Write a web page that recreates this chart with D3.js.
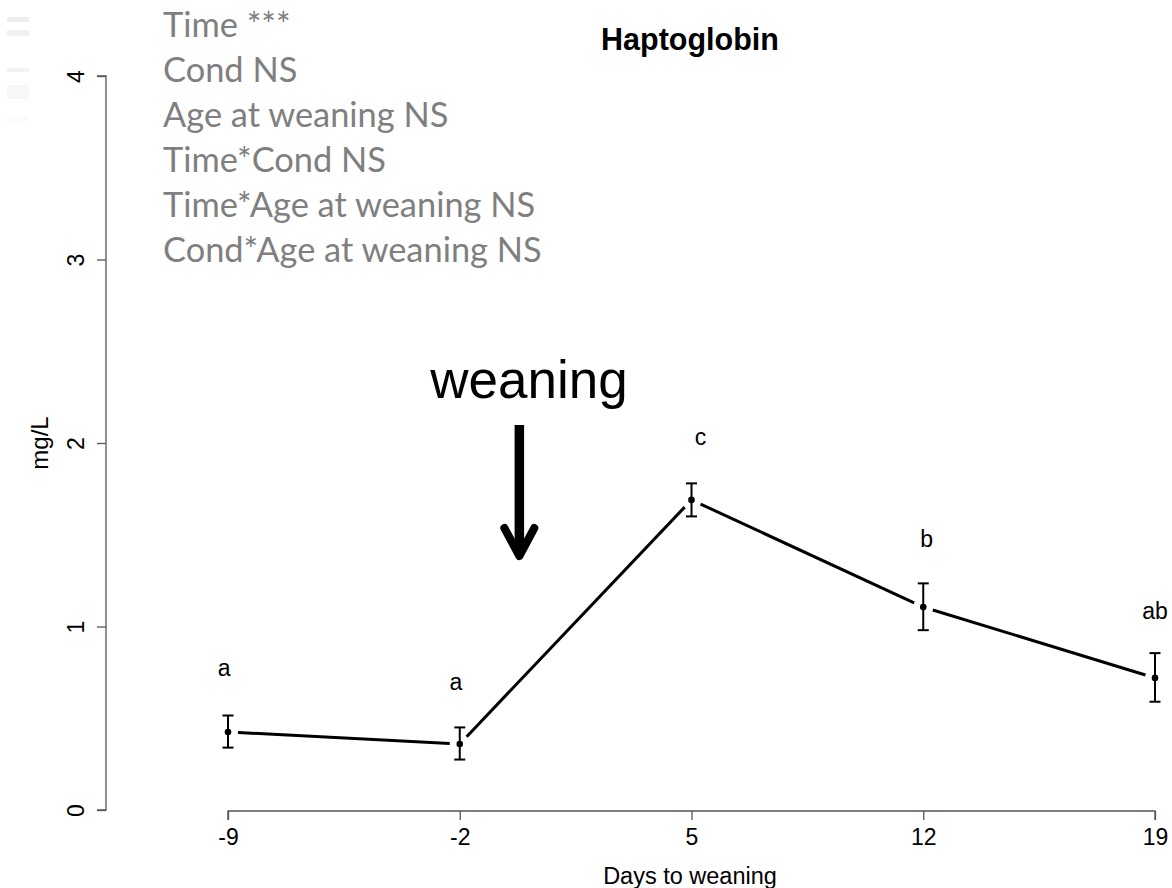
<!DOCTYPE html>
<html>
<head>
<meta charset="utf-8">
<script src="https://cdn.jsdelivr.net/npm/d3@7"></script>
<style>
  html, body { margin: 0; padding: 0; background: #fff; }
  svg { display: block; }
</style>
</head>
<body>
<script>
// Haptoglobin concentration around weaning (mean ± SE)
const days = [-9, -2, 5, 12, 19];
const means = [0.425, 0.36, 1.69, 1.106, 0.72];
const errLow = [0.34, 0.275, 1.6, 0.98, 0.59];
const errHigh = [0.515, 0.45, 1.78, 1.235, 0.855];
const letters = ["a", "a", "c", "b", "ab"];
const letterDays = [-9.12, -2.12, 5.27, 12.1, 19];
const letterValues = [0.763, 0.687, 2.022, 1.466, 1.074];
const yTicks = [0, 1, 2, 3, 4];
const statsLines = [
  "Time ***",
  "Cond NS",
  "Age at weaning NS",
  "Time*Cond NS",
  "Time*Age at weaning NS",
  "Cond*Age at weaning NS"
];

const W = 1172, H = 888;
const svg = d3.select("body").append("svg").attr("width", W).attr("height", H);

const x = d3.scaleLinear().domain([-9, 19]).range([228, 1155]);
const y = d3.scaleLinear().domain([0, 4]).range([810, 76]);

const axisColor = "#555";
const arial = "Liberation Sans, Arial, Helvetica, sans-serif";
const fmt = d => String(d); // plain hyphen-minus

// faint smudges along the left edge
const smudges = [[17, 5, "#ededed"], [30, 6, "#f1f1f1"], [68, 4, "#f3f3f3"], [85, 14, "#f7f7f7"], [117, 4, "#fafafa"]];
svg.append("g").selectAll("rect").data(smudges).join("rect")
  .attr("x", 7).attr("width", 22)
  .attr("y", d => d[0]).attr("height", d => d[1])
  .attr("fill", d => d[2]);

// y axis
const yAxis = svg.append("g").attr("transform", "translate(106,0)")
  .call(d3.axisLeft(y).tickValues(yTicks).tickSize(9).tickFormat(fmt));
yAxis.select(".domain").attr("stroke", axisColor).attr("stroke-width", 1.3)
  .attr("d", `M-9,${y(4)}H0V${y(0)}H-9`);
yAxis.selectAll(".tick line").attr("stroke", axisColor).attr("stroke-width", 1.3);
yAxis.selectAll(".tick text")
  .attr("font-family", arial).attr("font-size", 23).attr("fill", "#000")
  .attr("x", 0).attr("dy", 0)
  .attr("transform", "translate(-22,0) rotate(-90)")
  .attr("text-anchor", "middle");

// x axis
const xAxis = svg.append("g").attr("transform", "translate(0,811)")
  .call(d3.axisBottom(x).tickValues(days).tickSize(9).tickFormat(fmt));
xAxis.select(".domain").attr("stroke", axisColor).attr("stroke-width", 1.3)
  .attr("d", `M${x(-9)},9V0H${x(19)}V9`);
xAxis.selectAll(".tick line").attr("stroke", axisColor).attr("stroke-width", 1.3);
xAxis.selectAll(".tick text")
  .attr("font-family", arial).attr("font-size", 23).attr("fill", "#000")
  .attr("y", 18).attr("dy", "0.71em");

// axis titles
svg.append("text")
  .attr("transform", `translate(48,${y(2)}) rotate(-90)`)
  .attr("text-anchor", "middle")
  .attr("font-family", arial).attr("font-size", 24).text("mg/L");
svg.append("text")
  .attr("x", 690).attr("y", 884)
  .attr("text-anchor", "middle")
  .attr("font-family", arial).attr("font-size", 23.5).text("Days to weaning");

// title
svg.append("text")
  .attr("x", 690).attr("y", 50)
  .attr("text-anchor", "middle")
  .attr("font-family", arial).attr("font-size", 30.5).attr("font-weight", "bold")
  .text("Haptoglobin");

// connecting line segments with gaps around points (type "b")
const pts = days.map((d, i) => [x(d), y(means[i])]);
const gap = 10;
const segs = [];
for (let i = 0; i < pts.length - 1; i++) {
  const [x0, y0] = pts[i], [x1, y1] = pts[i + 1];
  const len = Math.hypot(x1 - x0, y1 - y0);
  const ux = (x1 - x0) / len, uy = (y1 - y0) / len;
  segs.push([[x0 + ux * gap, y0 + uy * gap], [x1 - ux * gap, y1 - uy * gap]]);
}
svg.append("g").selectAll("line").data(segs).join("line")
  .attr("x1", d => d[0][0]).attr("y1", d => d[0][1])
  .attr("x2", d => d[1][0]).attr("y2", d => d[1][1])
  .attr("stroke", "#000").attr("stroke-width", 3);

// error bars
const eb = svg.append("g").attr("stroke", "#000").attr("stroke-width", 2);
days.forEach((d, i) => {
  const cx = x(d);
  eb.append("line").attr("x1", cx).attr("x2", cx).attr("y1", y(errLow[i])).attr("y2", y(errHigh[i]));
  eb.append("line").attr("x1", cx - 5.5).attr("x2", cx + 5.5).attr("y1", y(errLow[i])).attr("y2", y(errLow[i]));
  eb.append("line").attr("x1", cx - 5.5).attr("x2", cx + 5.5).attr("y1", y(errHigh[i])).attr("y2", y(errHigh[i]));
});

// points
svg.append("g").selectAll("circle").data(days).join("circle")
  .attr("cx", d => x(d)).attr("cy", (d, i) => y(means[i]))
  .attr("r", 3.3).attr("fill", "#000");

// significance letters
svg.append("g").selectAll("text").data(letters).join("text")
  .attr("x", (d, i) => x(letterDays[i])).attr("y", (d, i) => y(letterValues[i]))
  .attr("text-anchor", "middle").attr("dominant-baseline", "middle")
  .attr("font-family", arial).attr("font-size", 23)
  .text(d => d);

// model effects summary
svg.append("g").selectAll("text").data(statsLines).join("text")
  .attr("x", 163).attr("y", (d, i) => 37 + i * 45)
  .attr("font-family", "Lato, 'Open Sans', sans-serif").attr("font-size", 34.4)
  .attr("fill", "#7f7f7f")
  .text(d => d);

// weaning marker
svg.append("text")
  .attr("x", 529).attr("y", 398)
  .attr("text-anchor", "middle")
  .attr("font-family", arial).attr("font-size", 53)
  .text("weaning");
const ax = x(-0.2);
svg.append("line")
  .attr("x1", ax).attr("x2", ax).attr("y1", 425).attr("y2", 553)
  .attr("stroke", "#000").attr("stroke-width", 9.5);
svg.append("path")
  .attr("d", `M${ax - 15},${528} L${ax},${556} L${ax + 15},${528}`)
  .attr("fill", "none").attr("stroke", "#000").attr("stroke-width", 8)
  .attr("stroke-linecap", "round").attr("stroke-linejoin", "round");
</script>
</body>
</html>
